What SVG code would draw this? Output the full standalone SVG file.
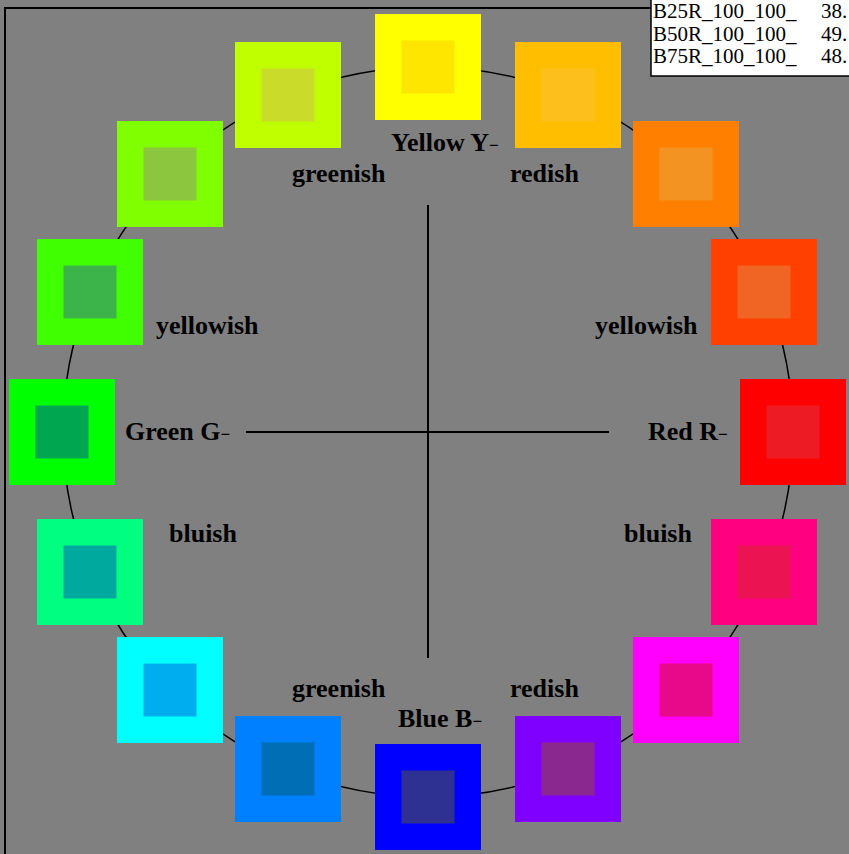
<svg xmlns="http://www.w3.org/2000/svg" width="849" height="854" viewBox="0 0 849 854">
<style>
.lbl{font-family:"Liberation Serif","Times New Roman",serif;font-weight:bold;font-size:26px;fill:#000}
.sub{font-size:17px}
.tbl{font-family:"Liberation Serif","Times New Roman",serif;font-size:21px;fill:#000}
.ax{stroke:#000;stroke-width:2;fill:none}
</style>
<rect x="0" y="0" width="849" height="854" fill="#808080"/>
<rect x="5" y="8" width="900" height="900" fill="none" stroke="#000" stroke-width="2"/>
<g id="connectors">
<circle cx="428" cy="432" r="365" fill="none" stroke="#000" stroke-width="1.5"/>
<line class="ax" x1="428" y1="205" x2="428" y2="658"/>
<line class="ax" x1="246" y1="432" x2="609" y2="432"/>
</g>
<g id="sq0"><rect x="375" y="14" width="106" height="106" fill="#ffff00"/><rect x="401.5" y="40.5" width="53" height="53" fill="#ffe600"/></g>
<g id="sq1"><rect x="515" y="42" width="106" height="106" fill="#ffbf00"/><rect x="541.5" y="68.5" width="53" height="53" fill="#fdbf1c"/></g>
<g id="sq2"><rect x="633" y="121" width="106" height="106" fill="#ff7f00"/><rect x="659.5" y="147.5" width="53" height="53" fill="#f39422"/></g>
<g id="sq3"><rect x="711" y="239" width="106" height="106" fill="#ff4000"/><rect x="737.5" y="265.5" width="53" height="53" fill="#f06523"/></g>
<g id="sq4"><rect x="740" y="379" width="106" height="106" fill="#ff0000"/><rect x="766.5" y="405.5" width="53" height="53" fill="#ed1c24"/></g>
<g id="sq5"><rect x="711" y="519" width="106" height="106" fill="#ff0080"/><rect x="737.5" y="545.5" width="53" height="53" fill="#ec1352"/></g>
<g id="sq6"><rect x="633" y="637" width="106" height="106" fill="#ff00ff"/><rect x="659.5" y="663.5" width="53" height="53" fill="#e8088a"/></g>
<g id="sq7"><rect x="515" y="716" width="106" height="106" fill="#8000ff"/><rect x="541.5" y="742.5" width="53" height="53" fill="#8b288f"/></g>
<g id="sq8"><rect x="375" y="744" width="106" height="106" fill="#0000ff"/><rect x="401.5" y="770.5" width="53" height="53" fill="#2e3192"/></g>
<g id="sq9"><rect x="235" y="716" width="106" height="106" fill="#0080ff"/><rect x="261.5" y="742.5" width="53" height="53" fill="#006eb5"/></g>
<g id="sq10"><rect x="117" y="637" width="106" height="106" fill="#00ffff"/><rect x="143.5" y="663.5" width="53" height="53" fill="#00aeef"/></g>
<g id="sq11"><rect x="37" y="519" width="106" height="106" fill="#00ff80"/><rect x="63.5" y="545.5" width="53" height="53" fill="#00a99d"/></g>
<g id="sq12"><rect x="9" y="379" width="106" height="106" fill="#00ff00"/><rect x="35.5" y="405.5" width="53" height="53" fill="#00a650"/></g>
<g id="sq13"><rect x="37" y="239" width="106" height="106" fill="#40ff00"/><rect x="63.5" y="265.5" width="53" height="53" fill="#3cb44a"/></g>
<g id="sq14"><rect x="117" y="121" width="106" height="106" fill="#80ff00"/><rect x="143.5" y="147.5" width="53" height="53" fill="#8cc63f"/></g>
<g id="sq15"><rect x="235" y="42" width="106" height="106" fill="#bfff00"/><rect x="261.5" y="68.5" width="53" height="53" fill="#cbdb2a"/></g>
<g id="labels">
<text class="lbl" x="391" y="151">Yellow Y<tspan class="sub">−</tspan></text>
<text class="lbl" x="292" y="182">greenish</text>
<text class="lbl" x="510" y="182">redish</text>
<text class="lbl" x="156" y="334">yellowish</text>
<text class="lbl" x="595" y="334">yellowish</text>
<text class="lbl" x="125" y="440">Green G<tspan class="sub">−</tspan></text>
<text class="lbl" x="648" y="440">Red R<tspan class="sub">−</tspan></text>
<text class="lbl" x="169" y="542">bluish</text>
<text class="lbl" x="624" y="542">bluish</text>
<text class="lbl" x="292" y="697">greenish</text>
<text class="lbl" x="510" y="697">redish</text>
<text class="lbl" x="398" y="727">Blue B<tspan class="sub">−</tspan></text>
</g>
<g id="table">
<rect x="651" y="-2" width="200" height="78" fill="#fff" stroke="#000" stroke-width="1.5"/>
<text class="tbl" x="653" y="18">B25R_100_100_</text><text class="tbl" x="821" y="18">38.</text>
<text class="tbl" x="653" y="41">B50R_100_100_</text><text class="tbl" x="821" y="41">49.</text>
<text class="tbl" x="653" y="63">B75R_100_100_</text><text class="tbl" x="821" y="63">48.</text>
</g>
</svg>
